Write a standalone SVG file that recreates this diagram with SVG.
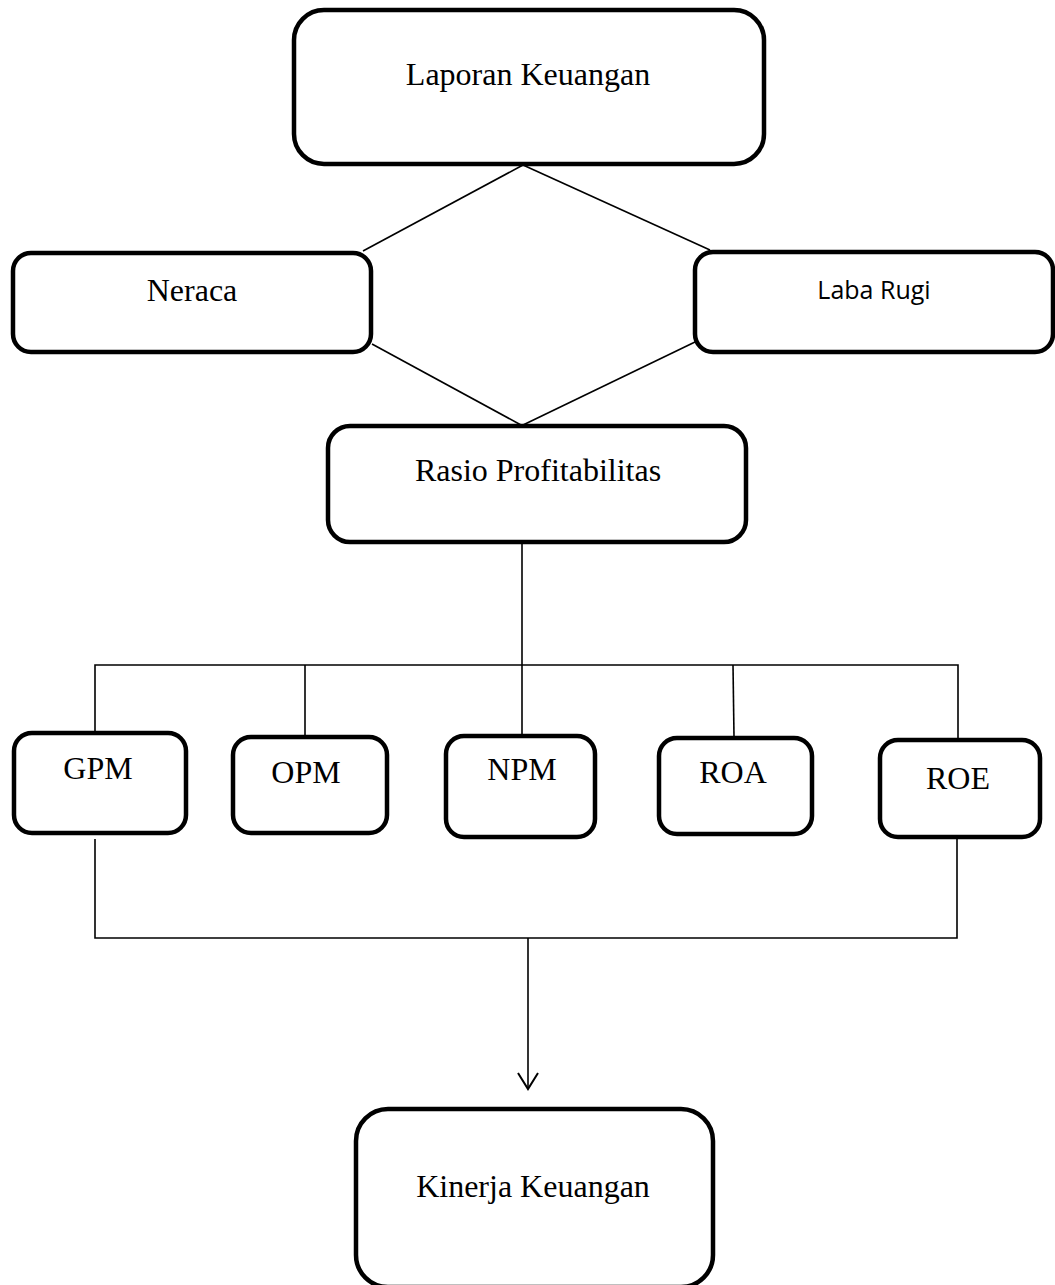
<svg xmlns="http://www.w3.org/2000/svg" width="1055" height="1285" viewBox="0 0 1055 1285">
<style>
.box{fill:#fff;stroke:#000;stroke-width:4.5}
.ln{fill:none;stroke:#000;stroke-width:1.6}
.t{font-family:"Liberation Serif","Times New Roman",serif;font-size:32px;fill:#000;text-anchor:middle}
.s{font-family:"Open Sans","Liberation Sans",sans-serif;font-size:25px;fill:#000;text-anchor:middle}
</style>
<defs>
<marker id="arr" markerWidth="24" markerHeight="24" refX="20" refY="12" orient="auto" markerUnits="userSpaceOnUse">
<path d="M4,2 L20,12 L4,22" fill="none" stroke="#000" stroke-width="2"/>
</marker>
</defs>
<rect width="1055" height="1285" fill="#fff"/>
<g id="connectors">
<line class="ln" x1="523" y1="165" x2="363" y2="251"/>
<line class="ln" x1="523" y1="165" x2="710" y2="250"/>
<line class="ln" x1="372" y1="344" x2="521" y2="425"/>
<line class="ln" x1="695" y1="342" x2="523" y2="425"/>
<line class="ln" x1="522" y1="543" x2="522" y2="737"/>
<polyline class="ln" points="95,733 95,665 958,665 958,740"/>
<line class="ln" x1="305" y1="665" x2="305" y2="737"/>
<line class="ln" x1="733" y1="665" x2="734" y2="737"/>
<polyline class="ln" points="95,839 95,938 957,938 957,838"/>
<line class="ln" x1="528" y1="938" x2="528" y2="1089" marker-end="url(#arr)"/>
</g>
<g id="laporan"><rect class="box" x="294" y="10" width="470" height="154" rx="30"/><text class="t" x="528" y="85">Laporan Keuangan</text></g>
<g id="neraca"><rect class="box" x="13" y="253" width="358" height="99" rx="18"/><text class="t" x="192" y="301">Neraca</text></g>
<g id="labarugi"><rect class="box" x="695" y="252" width="358" height="100" rx="18"/><text class="s" x="874" y="299">Laba Rugi</text></g>
<g id="rasio"><rect class="box" x="328" y="426" width="418" height="116" rx="22"/><text class="t" x="538" y="481">Rasio Profitabilitas</text></g>
<g id="gpm"><rect class="box" x="14" y="733" width="172" height="100" rx="18"/><text class="t" x="98" y="779">GPM</text></g>
<g id="opm"><rect class="box" x="233" y="737" width="154" height="96" rx="18"/><text class="t" x="306" y="783">OPM</text></g>
<g id="npm"><rect class="box" x="446" y="736" width="149" height="101" rx="18"/><text class="t" x="522" y="780">NPM</text></g>
<g id="roa"><rect class="box" x="659" y="738" width="153" height="96" rx="18"/><text class="t" x="733" y="783">ROA</text></g>
<g id="roe"><rect class="box" x="880" y="740" width="160" height="97" rx="18"/><text class="t" x="958" y="789">ROE</text></g>
<g id="kinerja"><rect class="box" x="356" y="1109" width="357" height="178" rx="32"/><text class="t" x="533" y="1197">Kinerja Keuangan</text></g>
</svg>
